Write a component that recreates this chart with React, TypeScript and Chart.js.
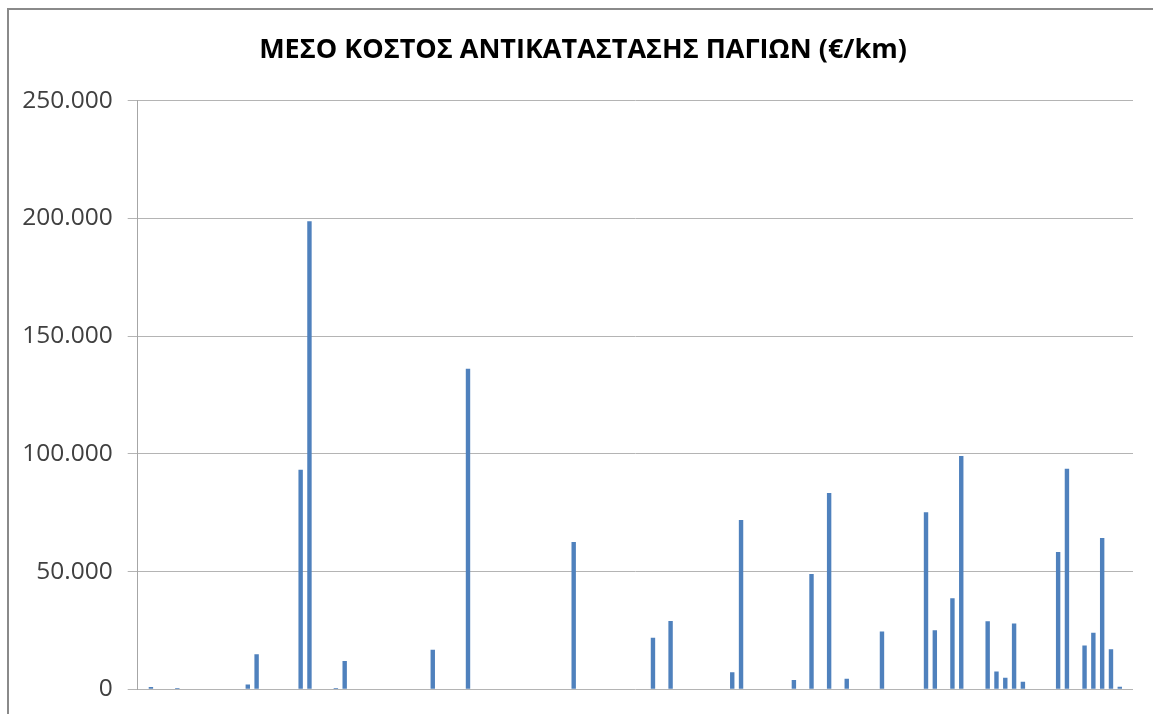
import React, { useEffect, useRef } from "react";
import { Chart, registerables } from "chart.js";

Chart.register(...registerables);

const TITLE = "ΜΕΣΟ ΚΟΣΤΟΣ ΑΝΤΙΚΑΤΑΣΤΑΣΗΣ ΠΑΓΙΩΝ (€/km)";

// 113 categories (no visible labels in the reference)
const categories: string[] = Array.from({ length: 113 }, (_, i) => String(i + 1));

// values (€/km)
const values: number[] = [
  0, 1000, 0, 0, 550, 0, 0, 0, 0, 250,
  0, 0, 2000, 14900, 0, 0, 0, 0, 93200, 198800,
  0, 0, 600, 12000, 0, 0, 0, 0, 0, 0,
  0, 0, 0, 16800, 0, 0, 0, 136200, 0, 0,
  0, 0, 0, 0, 0, 0, 0, 0, 0, 62600,
  0, 0, 0, 0, 0, 0, 0, 0, 21900, 0,
  29000, 0, 0, 0, 0, 0, 250, 7200, 71900, 0,
  0, 0, 0, 250, 3900, 0, 49000, 0, 83400, 0,
  4500, 250, 0, 250, 24600, 0, 250, 250, 0, 75200,
  25100, 0, 38700, 99100, 0, 0, 28900, 7600, 4900, 27900,
  3200, 0, 0, 0, 58300, 93700, 0, 18600, 24000, 64300,
  17000, 1100, 0,
];

const yMin = 0;
const yMax = 250000;
const yStep = 50000;

function formatThousands(v: number): string {
  return String(Math.round(v)).replace(/\B(?=(\d{3})+(?!\d))/g, ".");
}

// draws the chart title slightly right of the canvas centre, as in the reference
const titlePlugin = {
  id: "offsetTitle",
  afterDraw(chart: any) {
    const ctx = chart.ctx;
    ctx.save();
    ctx.font = 'bold 27px "Open Sans"';
    ctx.fillStyle = "#000000";
    ctx.textAlign = "center";
    ctx.textBaseline = "middle";
    ctx.fillText(TITLE, 583, 50);
    ctx.restore();
  },
};

export default function App() {
  const canvasRef = useRef<HTMLCanvasElement | null>(null);

  useEffect(() => {
    if (!canvasRef.current) return;
    const chart = new Chart(canvasRef.current, {
      type: "bar",
      data: {
        labels: categories,
        datasets: [
          {
            data: values,
            backgroundColor: "#4F81BD",
            borderWidth: 0,
            categoryPercentage: 1,
            barPercentage: 0.5,
          },
        ],
      },
      plugins: [titlePlugin],
      options: {
        responsive: false,
        animation: false,
        layout: { padding: { left: 0, right: 20, top: 100.7, bottom: 24.7 } },
        plugins: {
          legend: { display: false },
          tooltip: { enabled: false },
          title: { display: false },
        },
        scales: {
          x: { display: false },
          y: {
            min: yMin,
            max: yMax,
            afterFit: (scale: any) => {
              scale.width = 137.7;
              scale.paddingTop = 0;
              scale.paddingBottom = 0;
            },
            ticks: {
              stepSize: yStep,
              padding: 15,
              color: "#404040",
              font: { family: "Open Sans", size: 24.5 },
              callback: (v: any) => formatThousands(Number(v)),
            },
            grid: {
              color: "#b4b4b4",
              lineWidth: 1,
              tickLength: 10,
              drawTicks: true,
            },
            border: { display: true, color: "#a6a6a6", width: 1 },
          },
        },
      },
    });
    return () => chart.destroy();
  }, []);

  return (
    <div
      style={{
        position: "absolute",
        left: 0,
        top: 0,
        width: 1153,
        height: 714,
        overflow: "hidden",
        background: "#ffffff",
      }}
    >
      <canvas
        ref={canvasRef}
        width={1153}
        height={714}
        style={{ position: "absolute", left: 0, top: 0, width: 1153, height: 714 }}
      />
      <div
        style={{
          position: "absolute",
          left: 7,
          top: 8,
          width: 1170,
          height: 730,
          border: "2px solid #8a8a8a",
          boxSizing: "border-box",
          pointerEvents: "none",
        }}
      />
    </div>
  );
}
